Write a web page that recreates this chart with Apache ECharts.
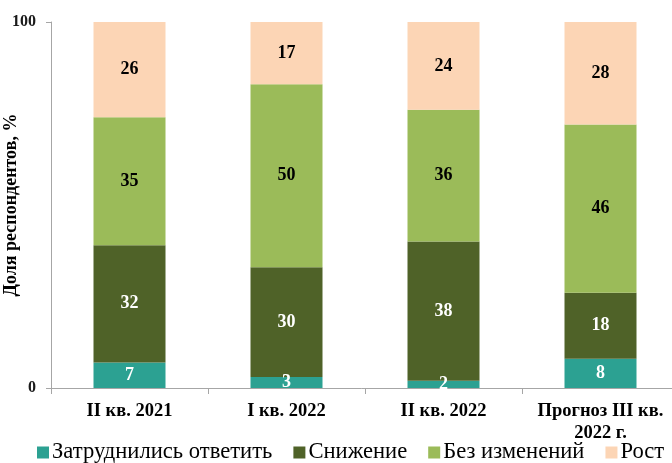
<!DOCTYPE html>
<html>
<head>
    <meta charset="UTF-8">
    <title>echarts</title>
    <style>
        html, body { margin: 0; padding: 0; background: #fff; }
        #chart { width: 672px; height: 463px; }
    </style>
    <script src="https://cdn.jsdelivr.net/npm/echarts@6/dist/echarts.min.js"></script>
</head>
<body>
<div id="chart"></div>
<script>
    // data
    const categories = ['II кв. 2021', 'I кв. 2022', 'II кв. 2022', 'Прогноз III кв.\n2022 г.'];
    const seriesNames = ['Затруднились ответить', 'Снижение', 'Без изменений', 'Рост'];
    const hardToSay = [7, 3, 2, 8];
    const decrease = [32, 30, 38, 18];
    const noChange = [35, 50, 36, 46];
    const growth = [26, 17, 24, 28];

    const colors = ['#2ca192', '#4f6228', '#9bbb59', '#fcd5b5'];
    const labelColors = ['#fff', '#fff', '#000', '#000'];
    const font = '"Liberation Serif", "Times New Roman", serif';

    let chart = echarts.init(document.getElementById('chart'), null, {renderer: 'canvas'});

    const values = [hardToSay, decrease, noChange, growth];
    let series = values.map((vals, i) => ({
        name: seriesNames[i],
        type: 'bar',
        stack: 'total',
        barWidth: 72,
        data: vals,
        itemStyle: {color: colors[i]},
        label: {
            show: true,
            position: 'inside',
            color: labelColors[i],
            fontFamily: font,
            fontWeight: 'bold',
            fontSize: 18
        }
    }));

    chart.setOption({
        animation: false,
        grid: {left: 51, right: -7, top: 22, bottom: 75, containLabel: false, outerBoundsMode: 'none'},
        legend: {
            left: 32,
            top: 436,
            width: 660,
            itemWidth: 12,
            itemHeight: 12,
            itemGap: 21,
            icon: 'rect',
            textStyle: {fontFamily: font, fontSize: 22.6, color: '#000', padding: [0, 0, 0, -2]},
            data: seriesNames
        },
        xAxis: {
            type: 'category',
            data: categories,
            axisLine: {lineStyle: {color: '#a6a6a6'}},
            axisTick: {show: true, length: 6, lineStyle: {color: '#a6a6a6'}},
            axisLabel: {
                interval: 0,
                margin: 12,
                fontFamily: font,
                fontWeight: 'bold',
                fontSize: 18.5,
                color: '#000',
                lineHeight: 22
            }
        },
        yAxis: {
            type: 'value',
            min: 0,
            max: 100,
            interval: 100,
            name: 'Доля респондентов, %',
            nameLocation: 'middle',
            nameGap: 31,
            nameMoveOverlap: false,
            nameTextStyle: {fontFamily: font, fontWeight: 'bold', fontSize: 18, color: '#000'},
            axisLine: {show: true, lineStyle: {color: '#a6a6a6'}},
            axisTick: {show: true, length: 5, lineStyle: {color: '#a6a6a6'}},
            splitLine: {show: false},
            axisLabel: {
                margin: 15,
                fontFamily: font,
                fontWeight: 'bold',
                fontSize: 16,
                color: '#1a1a1a'
            }
        },
        series: series
    });
</script>
</body>
</html>
